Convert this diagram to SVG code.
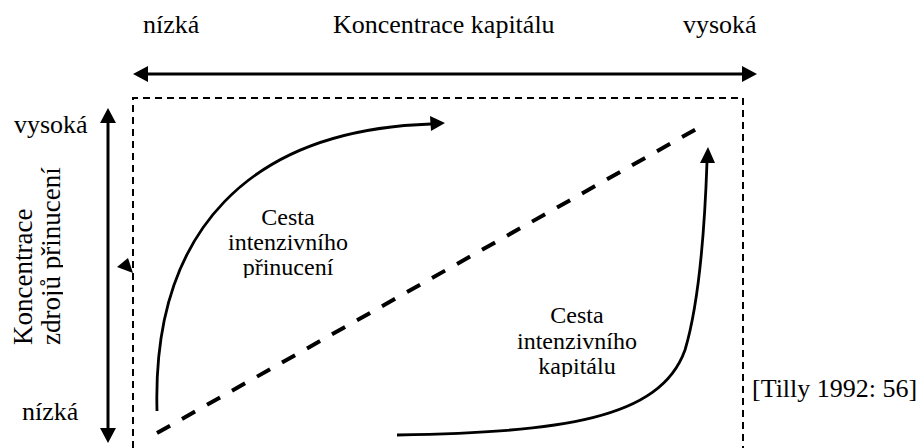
<svg xmlns="http://www.w3.org/2000/svg" width="923" height="448" viewBox="0 0 923 448">
  <style>
    text { font-family: "Liberation Serif", "Times New Roman", serif; fill: #000; }
    .axis { font-size: 26px; }
    .lbl { font-size: 24px; text-anchor: middle; }
    .solid { fill: none; stroke: #000; stroke-width: 3; }
    .curve { fill: none; stroke: #000; stroke-width: 2.8; }
    .frame { fill: none; stroke: #000; stroke-width: 2; stroke-dasharray: 7 5; }
    .diag { fill: none; stroke: #000; stroke-width: 4; stroke-dasharray: 15 13.7; }
    .head { fill: #000; }
  </style>
  <defs>
    <clipPath id="clipL1"><rect x="180" y="190" width="220" height="88"/></clipPath>
    <clipPath id="clipL2"><rect x="480" y="295" width="200" height="82"/></clipPath>
    <clipPath id="clipY"><rect x="0" y="150" width="63" height="220"/></clipPath>
  </defs>

  <g id="frame">
    <path class="frame" d="M133,448 V98 H743 V448"/>
  </g>

  <g id="connectors">
    <line class="solid" x1="146" y1="74" x2="744" y2="74"/>
    <polygon class="head" points="133,74 148,66 148,82"/>
    <polygon class="head" points="757,74 742,66 742,82"/>
    <line class="solid" x1="108" y1="121" x2="108" y2="430"/>
    <polygon class="head" points="108,108 100,123 116,123"/>
    <polygon class="head" points="108,443 100,428 116,428"/>
    <polygon class="head" points="117,267 128,258 133,273"/>
    <line class="diag" x1="157" y1="433" x2="707" y2="123"/>
    <path class="curve" d="M157,411 C152,230 250,130 431,124"/>
    <polygon class="head" points="445,123 430,116 431,131"/>
    <path class="curve" d="M397,435 C560,432 660,420 685,350 C700,300 705,220 707,162"/>
    <polygon class="head" points="708,147 700,163 715,163"/>
  </g>

  <g id="x-axis-labels">
    <text class="axis" x="143" y="33">nízká</text>
    <text class="axis" x="333" y="33">Koncentrace kapitálu</text>
    <text class="axis" x="683" y="33">vysoká</text>
  </g>

  <g id="y-axis-labels">
    <text class="axis" x="14" y="133">vysoká</text>
    <text class="axis" x="22" y="420">nízká</text>
    <g clip-path="url(#clipY)">
      <text class="axis" style="font-size:27px" transform="translate(32,345) rotate(-90)">Koncentrace</text>
      <text class="axis" style="font-size:27px" transform="translate(60,345) rotate(-90)">zdrojů přinucení</text>
    </g>
  </g>

  <g id="label-coercion" clip-path="url(#clipL1)">
    <text class="lbl" x="288" y="225">Cesta</text>
    <text class="lbl" x="288" y="250">intenzivního</text>
    <text class="lbl" x="288" y="275">přinucení</text>
  </g>

  <g id="label-capital" clip-path="url(#clipL2)">
    <text class="lbl" x="577" y="323">Cesta</text>
    <text class="lbl" x="577" y="349">intenzivního</text>
    <text class="lbl" x="577" y="374">kapitálu</text>
  </g>

  <g id="source">
    <text class="axis" x="752" y="397">[Tilly 1992: 56]</text>
  </g>
</svg>
